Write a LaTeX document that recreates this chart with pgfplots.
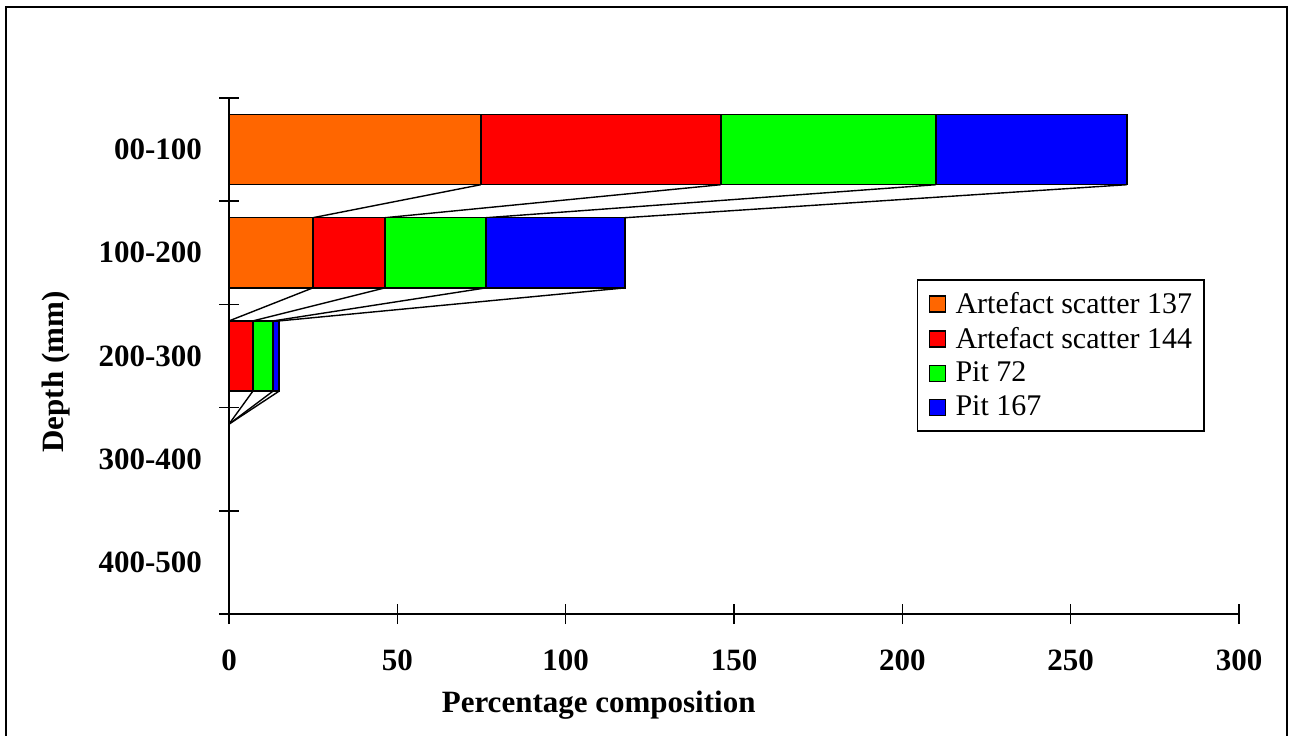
\documentclass[border=0pt]{standalone}
\usepackage{fontspec}
\setmainfont{Liberation Serif}
\usepackage{pgfplots}
\pgfplotsset{compat=1.18}
\definecolor{cOrange}{HTML}{FF6600}
\definecolor{cRed}{HTML}{FF0000}
\definecolor{cGreen}{HTML}{00FF00}
\definecolor{cBlue}{HTML}{0000FF}
\pgfplotsset{
  common/.style={
    scale only axis, width=505pt, height=258pt,
    at={(114.5pt,60.5pt)}, anchor=south west,
    xmin=0, xmax=300, ymin=-0.5, ymax=4.5, y dir=reverse,
  },
}
\begin{document}
\begin{tikzpicture}
\useasboundingbox (0,0) rectangle (644.5pt,367.5pt);
\draw[line width=1pt] (3pt,-2pt) -- (3pt,364pt) -- (643.4pt,364pt) -- (643.4pt,-2pt);

% series lines joining the stacked bars
\begin{axis}[common, hide axis]
  \addplot[black, line width=0.7pt] coordinates {(74.8,0.34) (24.9,0.66)};
  \addplot[black, line width=0.7pt] coordinates {(146.1,0.34) (46.3,0.66)};
  \addplot[black, line width=0.7pt] coordinates {(210.0,0.34) (76.3,0.66)};
  \addplot[black, line width=0.7pt] coordinates {(266.7,0.34) (117.6,0.66)};
  \addplot[black, line width=0.7pt] coordinates {(24.9,1.34) (0,1.66)};
  \addplot[black, line width=0.7pt] coordinates {(46.3,1.34) (7.1,1.66)};
  \addplot[black, line width=0.7pt] coordinates {(76.3,1.34) (13.1,1.66)};
  \addplot[black, line width=0.7pt] coordinates {(117.6,1.34) (14.9,1.66)};
  \addplot[black, line width=0.7pt] coordinates {(0,2.34) (0,2.66)};
  \addplot[black, line width=0.7pt] coordinates {(7.1,2.34) (0,2.66)};
  \addplot[black, line width=0.7pt] coordinates {(13.1,2.34) (0,2.66)};
  \addplot[black, line width=0.7pt] coordinates {(14.9,2.34) (0,2.66)};
\end{axis}

\begin{axis}[common,
    xbar stacked,
    bar width=0.68,
    axis lines*=left,
    axis line style={line width=0.75pt},
    xtick={0,50,...,300},
    ytick={0,1,2,3,4},
    yticklabels={00-100,100-200,200-300,300-400,400-500},
    minor ytick={-0.5,0.5,...,4.5},
    tick align=center,
    major tick length=10pt,
    minor tick length=10pt,
    major y tick style={draw=none},
    tick style={line width=0.75pt, black},
    /pgf/number format/assume math mode=true,
    ticklabel style={font=\fontsize{15.5}{18}\selectfont\bfseries},
    xticklabel style={anchor=center, yshift=-18pt},
    yticklabel style={anchor=east, xshift=-5pt},
    xlabel={Percentage composition},
    ylabel={Depth (mm)},
    label style={font=\fontsize{15.5}{18}\selectfont\bfseries},
    xlabel style={at={(axis description cs:0.366,-0.176)}, anchor=center},
    ylabel style={at={(axis description cs:-0.171,0.469)}, anchor=center, rotate=0},
    legend style={at={(0.681,0.649)}, anchor=north west, draw=black,
      line width=0.75pt,
      font=\fontsize{15}{17}\selectfont, legend cell align=left,
      inner xsep=4pt, inner ysep=4pt, row sep=1.5pt},
    legend image code/.code={\draw[#1, line width=0.6pt] (2pt,-4pt) rectangle (10pt,4pt);
      \path[draw=none, fill=none] (0pt,0pt) -- (13pt,0pt);},
  ]
  \addplot[fill=cOrange, draw=black, line width=0.75pt] coordinates {(74.8,0) (24.9,1) (0,2) (0,3) (0,4)};
  \addplot[fill=cRed, draw=black, line width=0.75pt] coordinates {(71.3,0) (21.4,1) (7.1,2) (0,3) (0,4)};
  \addplot[fill=cGreen, draw=black, line width=0.75pt] coordinates {(63.9,0) (30.0,1) (6.0,2) (0,3) (0,4)};
  \addplot[fill=cBlue, draw=black, line width=0.75pt] coordinates {(56.7,0) (41.3,1) (1.8,2) (0,3) (0,4)};
  \legend{Artefact scatter 137, Artefact scatter 144, Pit 72, Pit 167}
\end{axis}
\end{tikzpicture}
\end{document}
